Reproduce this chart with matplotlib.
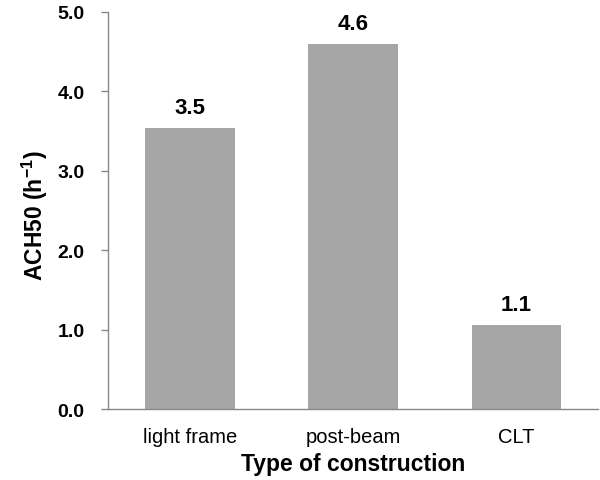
import matplotlib.pyplot as plt

plt.rcParams['font.family'] = ['Liberation Sans', 'DejaVu Sans']
plt.rcParams['mathtext.fontset'] = 'custom'
plt.rcParams['mathtext.rm'] = 'Liberation Sans'
plt.rcParams['mathtext.bf'] = 'Liberation Sans:bold'

categories = ['light frame', 'post-beam', 'CLT']
ach50 = [3.54, 4.6, 1.06]
bar_labels = ['3.5', '4.6', '1.1']
yticks = [0.0, 1.0, 2.0, 3.0, 4.0, 5.0]

fig = plt.figure(figsize=(6, 4.81), dpi=100)
ax = fig.add_axes([0.18, 0.1476, 0.817, 0.8254])

bars = ax.bar(range(len(categories)), ach50, width=0.55, color='#a6a6a6')
for b, lab in zip(bars, bar_labels):
    ax.annotate(lab, (b.get_x() + b.get_width() / 2, b.get_height()),
                xytext=(0, 15), textcoords='offset pixels',
                ha='center', va='baseline', fontsize=16, fontweight='bold')

ax.set_xlim(-0.5, 2.5)
ax.set_ylim(0, 5.0)
ax.set_yticks(yticks)
ax.set_yticklabels(['%.1f' % v for v in yticks], fontsize=14, fontweight='bold')
ax.set_xticks(range(len(categories)))
ax.set_xticklabels(categories, fontsize=14.5)
ax.tick_params(axis='x', length=0, pad=13)
ax.tick_params(axis='y', length=5, width=1, color='#888888', pad=12)

for s in ['top', 'right']:
    ax.spines[s].set_visible(False)
for s in ['left', 'bottom']:
    ax.spines[s].set_color('#888888')
    ax.spines[s].set_linewidth(1)

ax.set_ylabel('ACH50 (h$^{\\mathbf{-1}}$)', fontsize=16.5, fontweight='bold', labelpad=3)
ax.yaxis.set_label_coords(-0.118, 0.49)
ax.set_xlabel('Type of construction', fontsize=16.5, fontweight='bold', labelpad=4)

fig.savefig('out.png', dpi=100)
